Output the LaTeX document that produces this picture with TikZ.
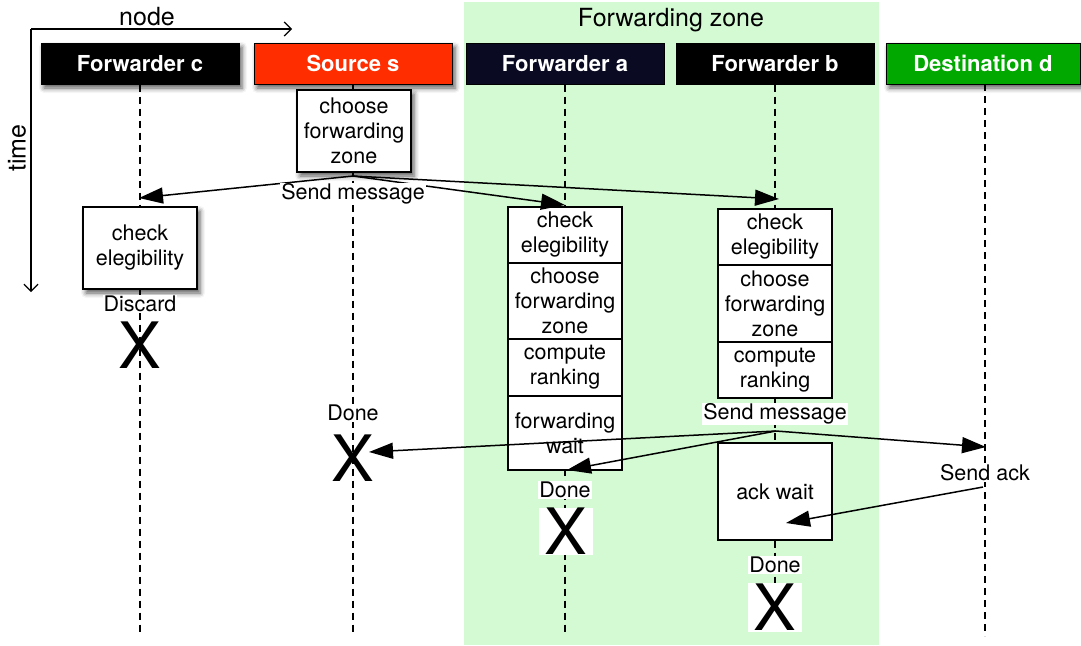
\documentclass[tikz,border=0pt]{standalone}
\usepackage{fontspec}
\setmainfont{TeX Gyre Heros}
\usetikzlibrary{arrows.meta,shadows.blur}

\definecolor{zonegreen}{RGB}{212,250,212}
\definecolor{srcred}{RGB}{255,45,0}
\definecolor{fwdnavy}{RGB}{10,10,35}
\definecolor{dstgreen}{RGB}{0,168,0}

\begin{document}
\begin{tikzpicture}[x=1pt,y=-1pt,
  every node/.style={font=\fontsize{21.5}{25}\selectfont},
  shade3d/.style={blur shadow={shadow xshift=3pt,shadow yshift=-4pt,shadow blur radius=5pt,shadow opacity=65}},
  head/.style={draw=black,line width=1pt,minimum height=41pt,inner sep=0pt,
    text=white,font=\fontsize{22}{26}\selectfont\bfseries},
  task/.style={draw=black,fill=white,line width=1.4pt,minimum width=114pt,
    inner sep=0pt,align=center},
  lifeline/.style={line width=1.2pt,dash pattern=on 7pt off 5pt},
  msg/.style={line width=1.5pt,-{Triangle[length=24pt,width=16pt]}},
  axis/.style={line width=1.2pt,-{Straight Barb[length=7pt,width=14pt,line width=1.2pt]}},
  lbl/.style={fill=white,inner sep=1pt},
  cross/.style={inner sep=0pt,font=\fontsize{64}{64}\selectfont}
]
\useasboundingbox (0,0) rectangle (1081,645);

% forwarding zone
\fill[zonegreen] (464,2) rectangle (879,645);
\node (zone) at (671,20) {\fontsize{25}{30}\selectfont Forwarding zone};

% axes
\coordinate (ax0) at (31,29);
\coordinate (axx) at (292,29);
\coordinate (axy) at (31,292);
\draw[axis] (ax0) -- (axx);
\draw[axis] (ax0) -- (axy);
\node (nodelbl) at (147,17) {\fontsize{25}{30}\selectfont node};
\node[rotate=90] (timelbl) at (17,148) {\fontsize{25}{30}\selectfont time};

% lifeline ends
\coordinate (ec) at (140,636);
\coordinate (es) at (353,636);
\coordinate (ea) at (565,636);
\coordinate (eb) at (775,636);
\coordinate (ed) at (985,636);

% headers
\node[head,fill=black,minimum width=198pt,shade3d] (hc) at (140,63.5) {Forwarder c};
\node[head,fill=srcred,minimum width=198pt,shade3d] (hs) at (353,63.5) {Source s};
\node[head,fill=fwdnavy,minimum width=198pt] (ha) at (565,63.5) {Forwarder a};
\node[head,fill=black,minimum width=198pt] (hb) at (775,63.5) {Forwarder b};
\node[head,fill=dstgreen,minimum width=194pt,shade3d] (hd) at (983,63.5) {Destination d};

% lifelines
\draw[lifeline] (hc.south) -- (ec);
\draw[lifeline] (hs.south) -- (es);
\draw[lifeline] (ha.south) -- (ea);
\draw[lifeline] (hb.south) -- (eb);
\draw[lifeline] (985,84) -- (ed);

% source
\node[task,minimum height=82pt,shade3d] (s1) at (354,131) {choose\\forwarding\\zone};

% forwarder c
\node[task,minimum height=82pt,shade3d] (c1) at (140,248) {check\\elegibility};
\node[lbl] (cdiscard) at (140,304) {Discard};
\node[cross] (cx) at (140,345) {X};

% forwarder a
\node[task,minimum height=56pt] (a1) at (565,235) {check\\elegibility};
\node[task,minimum height=76pt] (a2) at (565,301) {choose\\forwarding\\zone};
\node[task,minimum height=57pt] (a3) at (565,367.5) {compute\\ranking};
\node[task,minimum height=74pt] (a4) at (565,433) {forwarding\\wait};

% forwarder b
\node[task,minimum height=56pt] (b1) at (775,237) {check\\elegibility};
\node[task,minimum height=77pt] (b2) at (775,303.5) {choose\\forwarding\\zone};
\node[task,minimum height=56pt] (b3) at (775,370) {compute\\ranking};
\node[task,minimum height=97pt] (b4) at (775,491.5) {ack wait};

% first broadcast from the source
\coordinate (sm1) at (353,176);
\coordinate (tc) at (139,198);
\coordinate (ta) at (565,205);
\coordinate (tb) at (779,199);
\draw[msg] (sm1) -- (tc);
\draw[msg] (sm1) -- (ta);
\draw[msg] (sm1) -- (tb);
\node[lbl] (smlbl1) at (353,194) {Send message};

% source done
\node[lbl] (sdone) at (353,413) {Done};
\node[cross] (sx) at (353,458) {X};

% second broadcast from forwarder b
\coordinate (sm2) at (776,431);
\coordinate (tsx) at (369,452);
\coordinate (ta2) at (567,470);
\coordinate (td) at (986,447);
\draw[msg] (sm2) -- (tsx);
\draw[msg] (sm2) -- (ta2);
\draw[msg] (sm2) -- (td);
\node[lbl] (smlbl2) at (775,414) {Send message};

% forwarder a done
\node[lbl] (adone) at (565,490) {Done};
\node[cross,fill=white,minimum width=54pt,minimum height=47pt] (ax) at (566,531) {X};

% acknowledgement
\node[lbl] (acklbl) at (985,473) {Send ack};
\coordinate (ack0) at (983,487);
\coordinate (ack1) at (786,523);
\draw[msg] (ack0) -- (ack1);

% forwarder b done
\node[lbl] (bdone) at (775,565) {Done};
\node[cross,fill=white,minimum width=54pt,minimum height=49pt] (bx) at (775,607) {X};
\end{tikzpicture}
\end{document}
